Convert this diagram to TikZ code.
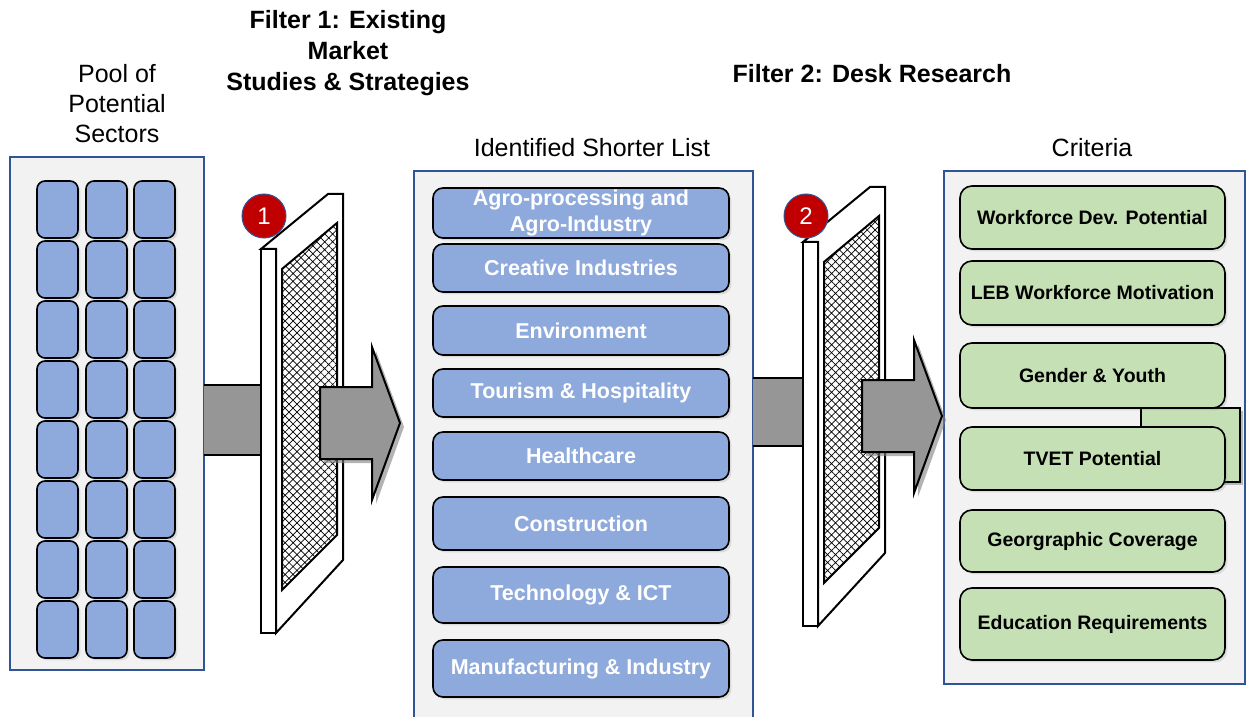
\documentclass[tikz,border=0pt]{standalone}
\usepackage{fontspec}
\setmainfont{Liberation Sans}
\usetikzlibrary{shadows,patterns.meta}
\definecolor{cellblue}{RGB}{142,169,219}
\definecolor{critgreen}{RGB}{197,224,180}
\definecolor{panelgray}{RGB}{242,242,242}
\definecolor{panelblue}{RGB}{47,85,151}
\definecolor{arrowgray}{RGB}{150,150,150}
\definecolor{badgered}{RGB}{192,0,0}

\begin{document}
\begin{tikzpicture}[x=0.5pt,y=-0.5pt,
    panel/.style={fill=panelgray,draw=panelblue,line width=0.8pt},
    cell/.style={draw=black,fill=cellblue,line width=0.8pt,rounded corners=4pt,
        minimum width=20.5pt,minimum height=28.5pt,
        drop shadow={shadow xshift=1.2pt,shadow yshift=-1.2pt,opacity=0.2}},
    sector/.style={cell,minimum width=148pt,rounded corners=5pt,inner sep=0pt,text=white,
        font=\fontsize{10.75}{13}\selectfont\bfseries,align=center},
    criterion/.style={cell,fill=critgreen,minimum width=132.5pt,rounded corners=6pt,
        font=\fontsize{9.75}{12}\selectfont\bfseries},
    heading/.style={font=\fontsize{12.5}{15.5}\selectfont\bfseries,align=center},
    caption/.style={font=\fontsize{12.5}{15}\selectfont,align=center},
    badge/.style={circle,fill=badgered,draw=panelblue,line width=0.5pt,minimum size=22pt,
        inner sep=0pt,text=white,font=\fontsize{12}{12}\selectfont},
    blockarrow/.style={fill=arrowgray,draw=black,line width=1pt}]
\useasboundingbox (0,0) rectangle (1249,717);

\node[caption] (pool) at (117,104) {Pool of\\Potential\\Sectors};
\node[heading] (filter1) at (348,53) {Filter 1: Existing\\Market\\Studies \& Strategies};
\node[heading] (filter2) at (872,74) {Filter 2: Desk Research};
\node[caption] (shortlist) at (592,148) {Identified Shorter List};
\node[caption] (criteria) at (1092,148) {Criteria};

% pool of sectors
\draw[panel] (10,157) rectangle (204,670);
\foreach \cx [count=\i] in {57.5,106.5,154.5}
    \foreach \r in {0,...,7}
        \node[cell] (pool\i\r) at (\cx,{209.5+60*\r}) {};

% shorter list
\fill[panelgray] (414,171) rectangle (753,717);
\draw[panelblue,line width=0.8pt] (414,717) |- (753,171) -- (753,717);
\foreach \y/\h/\name/\txt in {213/50/agro/{Agro-processing and\\Agro-Industry},
        268/48/creative/Creative Industries,330.5/49/environment/Environment,
        393/48/tourism/Tourism \& Hospitality,456/48/health/Healthcare,
        523.5/53/construction/Construction,595/56/tech/Technology \& ICT,
        668.5/57/manufacturing/Manufacturing \& Industry}
    \node[sector,minimum height=\h/2*1pt] (\name) at (581,\y) {\txt};

% criteria
\draw[panel] (944,171) rectangle (1245,684);
\filldraw[fill=critgreen,draw=black,line width=1pt,
    drop shadow={shadow xshift=1.5pt,shadow yshift=-1.5pt,opacity=0.5}] (1141,408) rectangle (1240,482);
\foreach \y/\h/\name/\txt in {217.5/63/workforce/Workforce Dev. Potential,
        293/64/motivation/LEB Workforce Motivation,375.5/65/gender/Gender \& Youth,
        458.5/63/tvet/TVET Potential,541/62/coverage/Georgraphic Coverage,
        624/72/education/Education Requirements}
    \node[criterion,minimum height=\h/2*1pt] (\name) at (1092.5,\y) {\txt};

% filters
\fill[arrowgray] (204,385) rectangle (262,455);
\draw[line width=1pt] (204,385) -- (262,385) (204,455) -- (262,455);
\fill[arrowgray] (753,378) rectangle (804,446);
\draw[line width=1pt] (753,378) -- (804,378) (753,446) -- (804,446);
\foreach \dx/\dy in {0/0,542/-7}
{
\begin{scope}[shift={(\dx,\dy)}]
\filldraw[fill=white,line width=1pt] (261,249) -- (328,194) -- (343,194) -- (343,560) -- (276,633) -- (276,249) -- cycle;
\filldraw[fill=white,line width=1pt] (261,249) rectangle (276,633);
\draw[line width=1pt,pattern={Hatch[angle=45,distance=2.8pt,line width=0.35pt]}]
    (282,269) -- (337,223) -- (337,535) -- (282,590) -- cycle;
\draw[blockarrow,drop shadow={shadow xshift=2pt,shadow yshift=-2pt,opacity=0.6}]
    (320,387) -- (372,387) -- (372,347) -- (400,423) -- (372,500) -- (372,459) -- (320,459) -- cycle;
\end{scope}
}
\node[badge] (badge1) at (264,216) {1};
\node[badge] (badge2) at (806,216) {2};
\end{tikzpicture}
\end{document}
